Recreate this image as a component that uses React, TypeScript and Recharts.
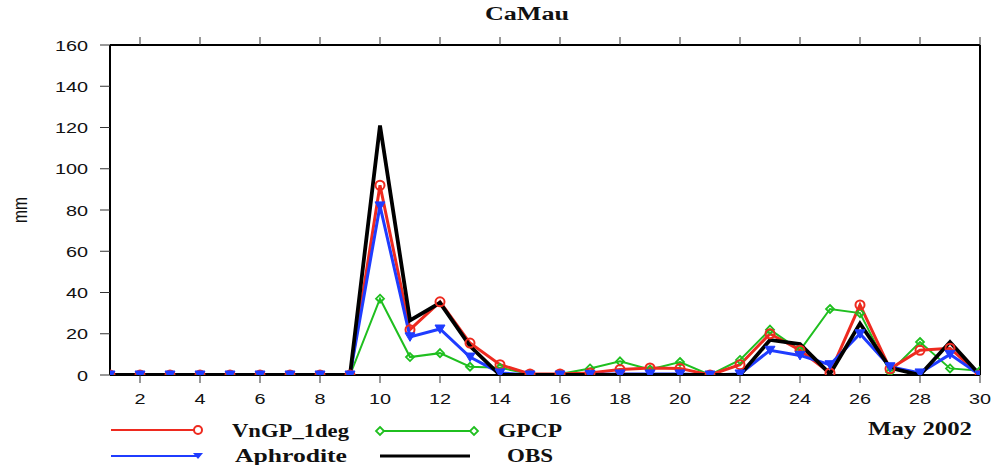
import React from 'react';
import { LineChart, Line, XAxis, YAxis } from 'recharts';

const days = [1, 2, 3, 4, 5, 6, 7, 8, 9, 10, 11, 12, 13, 14, 15, 16, 17, 18, 19, 20, 21, 22, 23, 24, 25, 26, 27, 28, 29, 30];
const vngp = [0, 0, 0, 0, 0, 0, 0, 0, 0, 92, 22, 35.5, 15.5, 5, 0.5, 0.5, 1, 2.7, 3.4, 3.2, 0, 5, 20, 12, 1, 34, 3, 12, 13, 0];
const gpcp = [0, 0, 0, 0, 0, 0, 0, 0, 0, 37, 8.7, 10.6, 4, 3.5, 0.5, 0.5, 3.2, 6.6, 2.7, 6.3, 0, 7.3, 22, 12, 32, 30, 1.5, 16, 3.2, 2];
const aphro = [0, 0, 0, 0, 0, 0, 0, 0, 0, 82, 18.5, 22.3, 8.7, 1, 0, 0, 0.3, 0.5, 0.5, 0.5, 0, 0.5, 12, 9.5, 5, 20, 4, 1, 10, 0];
const obs = [0, 0, 0, 0, 0, 0, 0, 0, 0, 121, 26.5, 35, 14, 0, 0, 0, 0, 0, 0, 0, 0, 0, 17, 15, 0.5, 25, 3.5, 0, 16, 0];

const xTicks = [2, 4, 6, 8, 10, 12, 14, 16, 18, 20, 22, 24, 26, 28, 30];
const yTicks = [0, 20, 40, 60, 80, 100, 120, 140, 160];

const RED = '#ee2a1f';
const GREEN = '#1fbf1f';
const BLUE = '#1f3cff';

const data = days.map((d, i) => ({ day: d, vngp: vngp[i], gpcp: gpcp[i], aphro: aphro[i], obs: obs[i] }));

const serif = '"Liberation Serif", "Times New Roman", serif';
const sans = '"Liberation Sans", Arial, sans-serif';

// the picture is a bit wider than tall, so tick text is stretched sideways
const XTick = (props: any) => {
    const { x, y, payload } = props;
    return (
        <text transform={`translate(${x},${y + 14}) scale(1.28,1)`} textAnchor="middle" fontSize={15.5} fontFamily={sans} fill="#111">
            {payload.value}
        </text>
    );
};

const YTick = (props: any) => {
    const { x, y, payload } = props;
    return (
        <text transform={`translate(${x},${y + 5.5}) scale(1.28,1)`} textAnchor="end" fontSize={15.5} fontFamily={sans} fill="#111">
            {payload.value}
        </text>
    );
};

const CircleDot = (props: any) => {
    const { cx, cy, key } = props;
    return <circle key={key} cx={cx} cy={cy} r={4.5} stroke={RED} strokeWidth={2} fill="none" />;
};

const DiamondDot = (props: any) => {
    const { cx, cy, key } = props;
    const s = 4;
    return <polygon key={key} points={`${cx},${cy - s} ${cx + s},${cy} ${cx},${cy + s} ${cx - s},${cy}`} stroke={GREEN} strokeWidth={1.8} fill="none" />;
};

const TriDot = (props: any) => {
    const { cx, cy, key } = props;
    const s = 5;
    return <polygon key={key} points={`${cx - s},${cy - s * 0.8} ${cx + s},${cy - s * 0.8} ${cx},${cy + s * 0.9}`} fill={BLUE} stroke={BLUE} strokeWidth={1} />;
};

const boldText = { fontFamily: serif, fontWeight: 'bold' as const, fill: '#111' };

export default function App() {
    return (
        <div style={{ position: 'relative', width: 994, height: 465, background: 'white' }}>
            <style>{'body{margin:0}'}</style>
            <LineChart width={994} height={465} data={data} margin={{ top: 0, right: 0, bottom: 0, left: 0 }}>
                <XAxis
                    xAxisId="bottom"
                    dataKey="day"
                    type="number"
                    domain={[1, 30]}
                    allowDataOverflow
                    ticks={xTicks}
                    height={90}
                    tickSize={8}
                    tickMargin={7}
                    axisLine={{ stroke: '#000', strokeWidth: 2 }}
                    tickLine={{ stroke: '#333', strokeWidth: 1 }}
                    tick={<XTick />}
                />
                <XAxis
                    xAxisId="top"
                    orientation="top"
                    dataKey="day"
                    type="number"
                    domain={[1, 30]}
                    ticks={xTicks}
                    height={45}
                    tickSize={8}
                    tickFormatter={() => ''}
                    axisLine={{ stroke: '#000', strokeWidth: 2 }}
                    tickLine={{ stroke: '#333', strokeWidth: 1 }}
                />
                <YAxis
                    yAxisId="left"
                    domain={[0, 160]}
                    allowDataOverflow
                    ticks={yTicks}
                    width={110}
                    tickSize={10}
                    tickMargin={12}
                    axisLine={{ stroke: '#000', strokeWidth: 2 }}
                    tickLine={{ stroke: '#333', strokeWidth: 1 }}
                    tick={<YTick />}
                />
                <YAxis
                    yAxisId="right"
                    orientation="right"
                    domain={[0, 160]}
                    ticks={yTicks}
                    width={14}
                    tickSize={8}
                    tickFormatter={() => ''}
                    axisLine={{ stroke: '#000', strokeWidth: 2 }}
                    tickLine={{ stroke: '#333', strokeWidth: 1 }}
                />
                <Line xAxisId="bottom" yAxisId="left" dataKey="gpcp" stroke={GREEN} strokeWidth={2} dot={DiamondDot} isAnimationActive={false} type="linear" />
                <Line xAxisId="bottom" yAxisId="left" dataKey="vngp" stroke={RED} strokeWidth={3} dot={CircleDot} isAnimationActive={false} type="linear" />
                <Line xAxisId="bottom" yAxisId="left" dataKey="aphro" stroke={BLUE} strokeWidth={3} dot={TriDot} isAnimationActive={false} type="linear" />
                <Line xAxisId="bottom" yAxisId="left" dataKey="obs" stroke="#000" strokeWidth={3.8} dot={false} isAnimationActive={false} type="linear" />
            </LineChart>
            <svg width={994} height={465} style={{ position: 'absolute', left: 0, top: 0, pointerEvents: 'none' }}>
                <text x={485} y={20} fontSize={18} textLength={84} lengthAdjust="spacingAndGlyphs" {...boldText}>CaMau</text>
                <text x={0} y={0} fontSize={15.5} fontFamily={sans} fill="#111" textAnchor="middle" transform="translate(27,210) rotate(-90) scale(1,1.28)">mm</text>

                <line x1={111} y1={430} x2={198} y2={430} stroke={RED} strokeWidth={2} />
                <circle cx={198} cy={430} r={4} stroke={RED} strokeWidth={2} fill="white" />
                <text x={232} y={437} fontSize={19} textLength={117} lengthAdjust="spacingAndGlyphs" {...boldText}>VnGP_1deg</text>

                <line x1={376} y1={431} x2={474} y2={431} stroke={GREEN} strokeWidth={2} />
                <polygon points="380,427 384,431 380,435 376,431" stroke={GREEN} strokeWidth={1.8} fill="white" />
                <polygon points="474,427 478,431 474,435 470,431" stroke={GREEN} strokeWidth={1.8} fill="white" />
                <text x={498} y={437} fontSize={19} textLength={64} lengthAdjust="spacingAndGlyphs" {...boldText}>GPCP</text>

                <line x1={111} y1={456} x2={198} y2={456} stroke={BLUE} strokeWidth={2} />
                <polygon points="193,453 203,453 198,459" fill={BLUE} />
                <text x={235} y={462} fontSize={19} textLength={112} lengthAdjust="spacingAndGlyphs" {...boldText}>Aphrodite</text>

                <line x1={380} y1={456} x2={470} y2={456} stroke="#000" strokeWidth={3} />
                <text x={507} y={462} fontSize={19} textLength={46} lengthAdjust="spacingAndGlyphs" {...boldText}>OBS</text>

                <text x={868} y={435} fontSize={19} textLength={104} lengthAdjust="spacingAndGlyphs" {...boldText}>May 2002</text>
            </svg>
        </div>
    );
}
